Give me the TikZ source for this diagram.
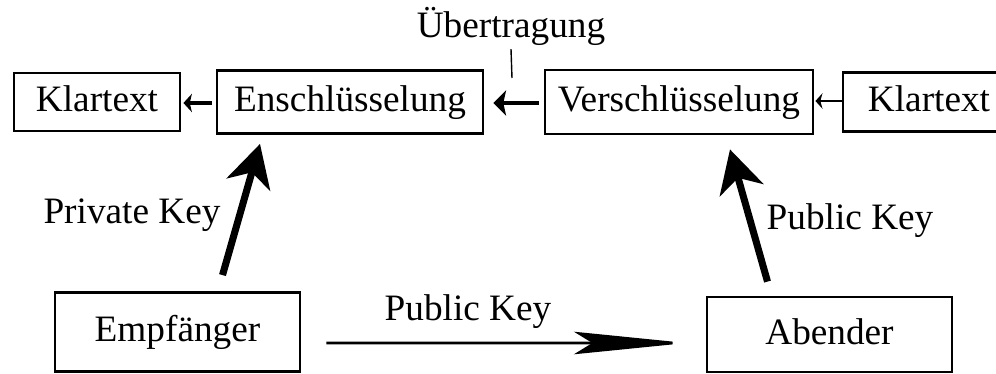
\documentclass[tikz,border=0pt]{standalone}
\usepackage{fontspec}
\setmainfont{Liberation Serif}
\usetikzlibrary{arrows.meta,calc}

\tikzset{
  box/.style={draw, line width=2pt, inner sep=0pt, text height=19pt, text depth=5pt},
  thinarrow/.style={line width=1.5pt, -{Stealth[length=5pt,width=11pt,inset=1.5pt]}},
  smallarrow/.style={line width=2.8pt, -{Stealth[length=6pt,width=13pt,inset=1.5pt]}},
  midarrow/.style={line width=3.5pt, -{Stealth[length=9pt,width=18pt,inset=2pt]}},
  keyarrow/.style={line width=5pt, -{Stealth[length=30pt,width=32pt,inset=9pt]}},
  sendarrow/.style={line width=2pt, -{Stealth[length=80pt,width=16pt,inset=13pt]}},
}

\begin{document}
\begin{tikzpicture}[x=0.025cm, y=-0.025cm, font=\fontsize{26.5}{30}\selectfont]
\useasboundingbox (0,0) rectangle (996,374);

% top row
\node [box, minimum width=4.15cm, minimum height=1.45cm] (klarL) at (97,102) {Klartext};
\node [box, minimum width=6.65cm, minimum height=1.575cm] (ensch) at (350,102) {Enschlüsselung};
\node [box, minimum width=6.7cm, minimum height=1.6cm] (versch) at (679,102) {Verschlüsselung};
\node [box, minimum width=4.3cm, minimum height=1.475cm] (klarR) at (929,102) {Klartext};

\node [anchor=base, inner sep=2pt] (uebertr) at (511,38) {Übertragung};
\coordinate (tick) at (512,78);
\draw [line width=1pt] (uebertr.south) -- (tick);

\draw [smallarrow] ($(ensch.west)+(-4,1)$) -- ($(klarL.east)+(2,1)$);
\draw [midarrow] ($(versch.west)+(-5,1)$) -- ($(ensch.east)+(9,1)$);
\draw [thinarrow] ($(klarR.west)+(0,-1)$) -- ($(versch.east)+(1,-1)$);

% bottom row
\node [box, minimum width=6.125cm, minimum height=1.975cm] (empf) at (177.5,332) {Empfänger};
\node [box, minimum width=6.125cm, minimum height=1.875cm] (abend) at (829.5,334.5) {Abender};

\draw [keyarrow] ($(empf.north)+(45,-16)$) -- ($(ensch.south)+(-90,9)$);
\node [anchor=base] (privkey) at (132,223) {Private Key};

\draw [keyarrow] ($(abend.north)+(-62,-14)$) -- ($(versch.south)+(51,14)$);
\node [anchor=base] (pubkeyR) at (850,230) {Public Key};

\draw [sendarrow] ($(empf.east)+(25,11)$) -- ($(abend.west)+(-19,8.5)$);
\node [anchor=base] (pubkey) at (468,320) {Public Key};

\end{tikzpicture}
\end{document}
